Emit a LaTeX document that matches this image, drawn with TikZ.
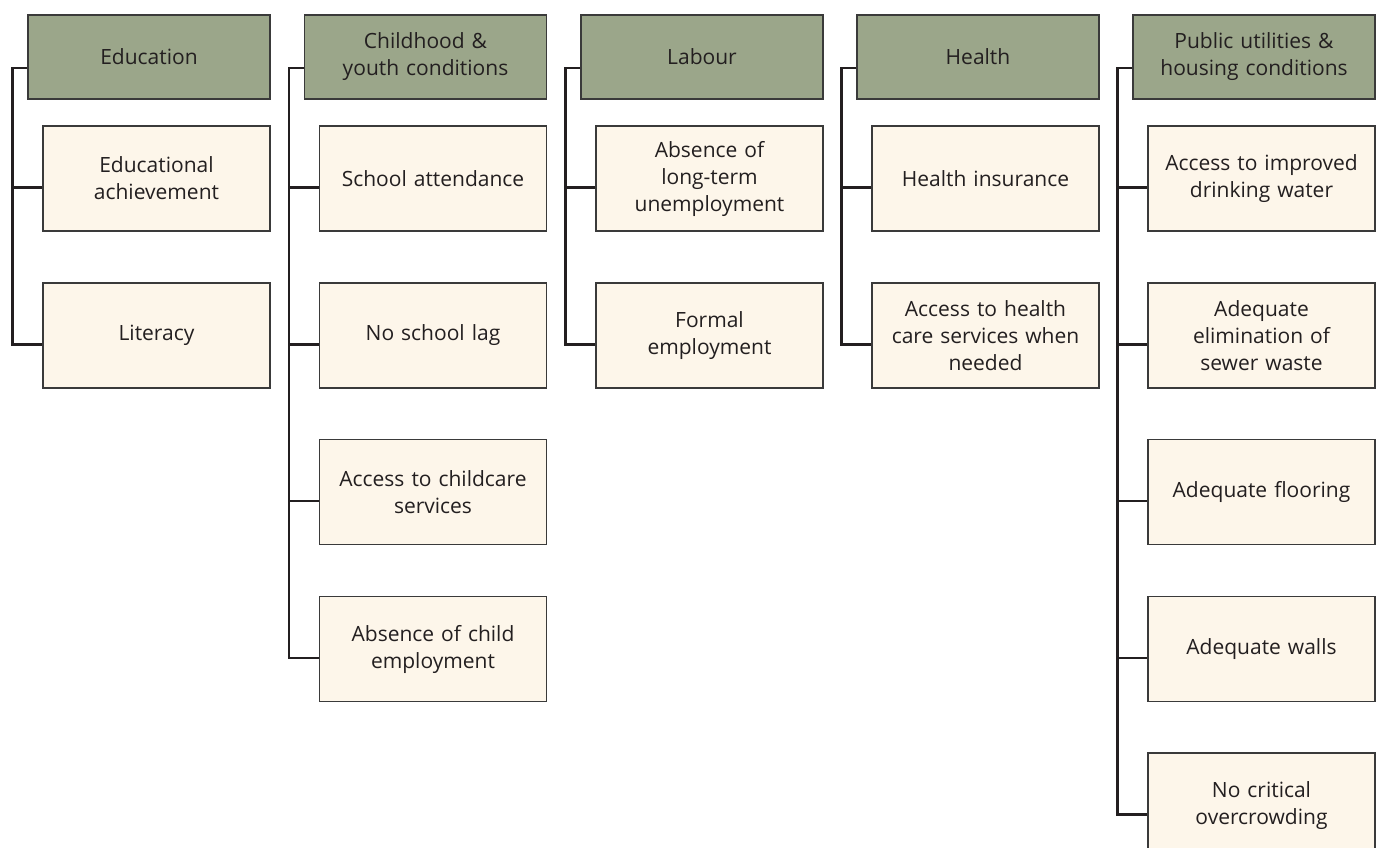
\documentclass[tikz,border=0pt]{standalone}
\usepackage{fontspec}
\setmainfont{Open Sans}
\definecolor{hdrfill}{HTML}{9BA68A}
\definecolor{itemfill}{HTML}{FDF6EA}
\definecolor{boxline}{HTML}{3A3A3A}
\definecolor{connline}{HTML}{231F20}
\definecolor{txt}{HTML}{231F20}
\begin{document}
\begin{tikzpicture}[x=1pt,y=-1pt,
  hdr/.style={draw=boxline,line width=1.3pt,fill=hdrfill,rectangle,minimum width=242pt,minimum height=84pt,inner sep=0pt,align=center,text width=225pt,font=\fontsize{21}{27}\selectfont,text=txt},
  itembox/.style={draw=boxline,line width=1.3pt,fill=itemfill,rectangle,minimum width=227pt,minimum height=105pt,inner sep=0pt,align=center,text width=215pt,font=\fontsize{21}{27}\selectfont,text=txt},
  conn/.style={draw=connline,line width=2.5pt}]
\useasboundingbox (0,0) rectangle (1378,847);
% column 1
\node[hdr] (h1) at (149,57) {Education};
\node[itembox] (a1) at (156.5,178.5) {Educational\\achievement};
\node[itembox] (a2) at (156.5,335.5) {Literacy};
% column 2
\node[hdr] (h2) at (425.5,57) {Childhood \&\\youth conditions};
\node[itembox] (b1) at (433,178.5) {School attendance};
\node[itembox] (b2) at (433,335.5) {No school lag};
\node[itembox] (b3) at (433,492) {Access to childcare\\services};
\node[itembox] (b4) at (433,649) {Absence of child\\employment};
% column 3
\node[hdr] (h3) at (702,57) {Labour};
\node[itembox] (c1) at (709.5,178.5) {Absence of\\long-term\\unemployment};
\node[itembox] (c2) at (709.5,335.5) {Formal\\employment};
% column 4
\node[hdr] (h4) at (978,57) {Health};
\node[itembox] (d1) at (985.5,178.5) {Health insurance};
\node[itembox] (d2) at (985.5,335.5) {Access to health\\care services when\\needed};
% column 5
\node[hdr] (h5) at (1254,57) {Public utilities \&\\housing conditions};
\node[itembox] (e1) at (1261.5,178.5) {Access to improved\\drinking water};
\node[itembox] (e2) at (1261.5,335.5) {Adequate\\elimination of\\sewer waste};
\node[itembox] (e3) at (1261.5,492) {Adequate flooring};
\node[itembox] (e4) at (1261.5,649) {Adequate walls};
\node[itembox] (e5) at (1261.5,805.5) {No critical\\overcrowding};
% connectors
\foreach \h/\last/\mids in {h1/a2/{a1}, h2/b4/{b1,b2,b3}, h3/c2/{c1}, h4/d2/{d1}, h5/e5/{e1,e2,e3,e4}}{
  \coordinate (t-\h) at ([yshift=-11pt,xshift=-15pt]\h.west);
  \draw[conn] ([yshift=-11pt]\h.west) -- (t-\h) |- ([yshift=-9pt]\last.west);
  \foreach \m in \mids {
    \coordinate (p-\m) at ([yshift=-9pt]\m.west);
    \draw[conn] (t-\h |- p-\m) -- (p-\m);
  }
}
\end{tikzpicture}
\end{document}
